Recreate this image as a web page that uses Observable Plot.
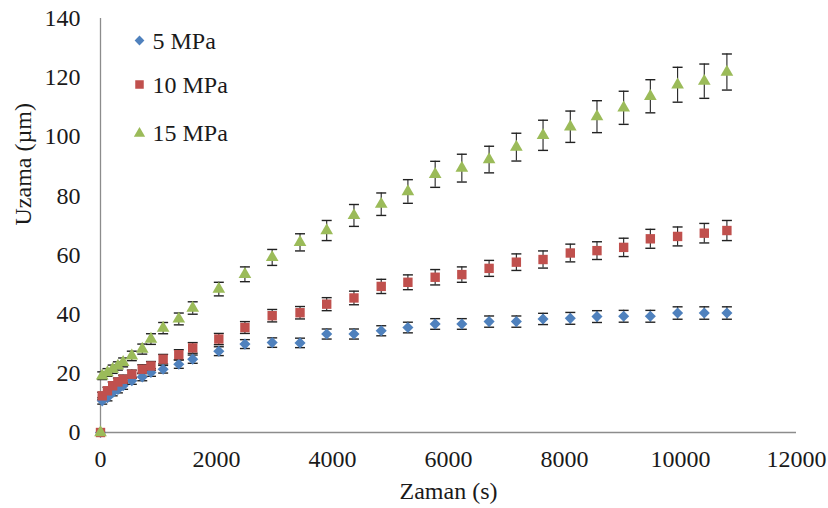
<!DOCTYPE html>
<html>
<head>
<meta charset="utf-8">
<script src="https://cdn.jsdelivr.net/npm/d3@7"></script>
<script src="https://cdn.jsdelivr.net/npm/@observablehq/plot@0.6"></script>
<style>
  html, body { margin: 0; padding: 0; background: #fff; }
  #chart { width: 828px; height: 508px; }
  #chart svg, #chart svg text { font-family: "Liberation Serif", Tinos, "Times New Roman", Times, serif !important; }
</style>
</head>
<body>
<div id="chart"></div>
<script>
// ---- data ----
const seriesNames = ["5 MPa", "10 MPa", "15 MPa"];
const time = [0, 30, 120, 210, 300, 390, 540, 720, 870, 1080, 1350, 1590, 2040, 2490, 2960, 3440,
  3900, 4370, 4840, 5300, 5770, 6230, 6700, 7170, 7630, 8100, 8560, 9020, 9480, 9950, 10410, 10800];
const mpa5 = [0, 10.7, 11.8, 13.5, 14.6, 15.8, 17.5, 18.8, 20.3, 21.4, 23.1, 24.8, 27.5, 29.9, 30.4, 30.3,
  33.3, 33.3, 34.4, 35.5, 36.7, 36.7, 37.5, 37.5, 38.4, 38.6, 39.2, 39.3, 39.3, 40.4, 40.4, 40.4];
const mpa10 = [0, 12.4, 14.1, 15.8, 17.1, 18.0, 19.7, 21.4, 22.5, 24.8, 26.3, 28.6, 31.6, 35.5, 39.5, 40.5,
  43.4, 45.5, 49.4, 50.8, 52.5, 53.4, 55.5, 57.6, 58.5, 60.7, 61.5, 62.6, 65.5, 66.3, 67.4, 68.3];
const mpa15 = [0, 19.2, 20.3, 21.4, 22.5, 23.7, 25.9, 28.2, 31.6, 35.3, 38.4, 42.1, 48.5, 53.5, 59.2, 64.3,
  68.3, 73.4, 77.2, 81.5, 87.3, 89.4, 92.3, 96.5, 100.5, 103.4, 106.8, 109.8, 113.7, 117.6, 118.8, 121.9];
const err5 = [0, 1.1, 1.1, 1.1, 1.2, 1.2, 1.2, 1.3, 1.3, 1.3, 1.4, 1.4, 1.5, 1.5, 1.6, 1.6,
  1.7, 1.7, 1.7, 1.8, 1.8, 1.8, 1.9, 1.9, 1.9, 2.0, 2.0, 2.0, 2.0, 2.1, 2.1, 2.1];
const err10 = [0, 1.2, 1.2, 1.3, 1.3, 1.4, 1.4, 1.5, 1.5, 1.6, 1.7, 1.8, 1.9, 2.0, 2.1, 2.1,
  2.2, 2.3, 2.4, 2.5, 2.6, 2.6, 2.7, 2.8, 2.9, 3.0, 3.0, 3.1, 3.2, 3.2, 3.3, 3.4];
const err15 = [0, 1.3, 1.3, 1.4, 1.4, 1.5, 1.6, 1.7, 1.8, 1.9, 2.0, 2.1, 2.3, 2.5, 2.7, 2.9,
  3.4, 3.7, 3.8, 4.0, 4.4, 4.7, 4.5, 4.7, 5.1, 5.3, 5.4, 5.6, 5.6, 5.9, 5.8, 6.1];
const xTicks = [0, 2000, 4000, 6000, 8000, 10000, 12000];
const yTicks = [0, 20, 40, 60, 80, 100, 120, 140];
const xLabel = "Zaman (s)";
const yLabel = "Uzama (µm)";

// ---- build long table ----
const values = [mpa5, mpa10, mpa15];
const errors = [err5, err10, err15];
const rows = [];
seriesNames.forEach((s, i) => {
  time.forEach((t, j) => rows.push({series: s, t, v: values[i][j], e: errors[i][j]}));
});

const colors = ["#4f81bd", "#c0504d", "#9bbb59"];
const symbols = ["diamond2", "square", "triangle"];
const radii = [5.0, 5.3, 4.7];
const legendRadii = [4.4, 4.8, 4.2];
const capSymbol = {
  draw(context) { context.moveTo(-5, 0); context.lineTo(5, 0); }
};
const font = "Liberation Serif";

const marks = [
  Plot.ruleX([0], {stroke: "#8c8c8c", strokeWidth: 1.3}),
  Plot.ruleY([0], {stroke: "#8c8c8c", strokeWidth: 1.3}),
  Plot.axisY({ticks: yTicks, tickSize: 0, tickPadding: 20, label: null, tickFormat: d => String(d), fill: "#1a1a1a", fontFamily: font, fontSize: 24}),
  Plot.axisX({ticks: xTicks, tickSize: 0, tickPadding: 17, label: null, tickFormat: d => String(d), fill: "#1a1a1a", fontFamily: font, fontSize: 24}),
  // error bars
  Plot.ruleX(rows.filter(d => d.e > 0), {x: "t", y1: d => d.v - d.e, y2: d => d.v + d.e, stroke: "#222", strokeWidth: 1.1}),
  Plot.dot(rows.filter(d => d.e > 0), {x: "t", y: d => d.v + d.e, symbol: capSymbol, stroke: "#222", strokeWidth: 1.4, r: 3}),
  Plot.dot(rows.filter(d => d.e > 0), {x: "t", y: d => d.v - d.e, symbol: capSymbol, stroke: "#222", strokeWidth: 1.4, r: 3}),
];
seriesNames.forEach((s, i) => {
  marks.push(Plot.dot(rows.filter(d => d.series === s), {x: "t", y: "v", fill: "series", symbol: "series", r: radii[i]}));
});
// legend
const legendDy = [22, 66, 114];
seriesNames.forEach((s, i) => {
  marks.push(Plot.dot([s], {frameAnchor: "top-left", dx: 39, dy: legendDy[i] + (i === 2 ? 1 : 0), fill: d => d, symbol: d => d, r: legendRadii[i]}));
  marks.push(Plot.text([s], {frameAnchor: "top-left", dx: 52, dy: legendDy[i] + 0.5, text: d => d, textAnchor: "start", lineAnchor: "middle", fill: "#1a1a1a", fontSize: 24, fontFamily: font}));
});
// axis titles
marks.push(Plot.text([xLabel], {frameAnchor: "bottom", dy: 59, text: d => d, lineAnchor: "middle", fill: "#1a1a1a", fontSize: 24, fontFamily: font}));
marks.push(Plot.text([yLabel], {frameAnchor: "left", dx: -77, rotate: -90, text: d => d, lineAnchor: "middle", fill: "#1a1a1a", fontSize: 24, fontFamily: font}));

const chart = Plot.plot({
  width: 828,
  height: 508,
  marginLeft: 100,
  marginRight: 32,
  marginTop: 18,
  marginBottom: 76,
  style: {fontFamily: font, fontSize: "24px", background: "#fff"},
  x: {domain: [0, 12000]},
  y: {domain: [0, 140]},
  color: {domain: seriesNames, range: colors},
  symbol: {domain: seriesNames, range: symbols},
  marks
});
document.getElementById("chart").appendChild(chart);
</script>
</body>
</html>
